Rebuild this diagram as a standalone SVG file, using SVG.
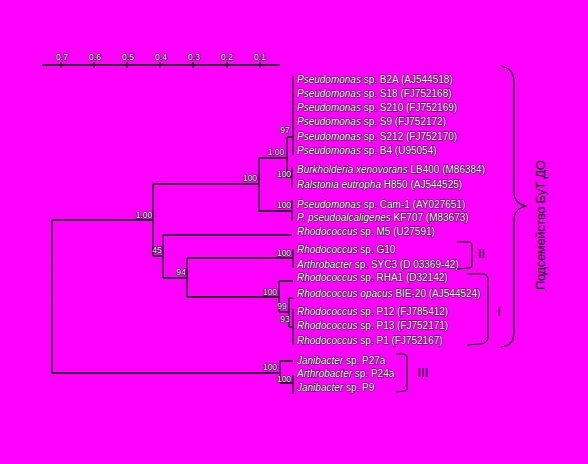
<svg xmlns="http://www.w3.org/2000/svg" width="588" height="464" viewBox="0 0 588 464">
<style>
.leaf{font-family:"Liberation Sans",Arial,sans-serif;font-size:10px;fill:#fff;stroke:#000;stroke-width:0.9;paint-order:stroke}
.lab{font-family:"Liberation Sans",Arial,sans-serif;font-size:8.5px;fill:#fff;stroke:#000;stroke-width:1;paint-order:stroke;text-anchor:middle}
.scl{font-family:"Liberation Sans",Arial,sans-serif;font-size:8.5px;fill:#fff;stroke:#000;stroke-width:1;paint-order:stroke;text-anchor:middle}
.rom{font-family:"Liberation Sans",Arial,sans-serif;font-size:13px;fill:#000;text-anchor:middle}
.ru{font-family:"Liberation Sans",Arial,sans-serif;font-size:13px;fill:#000;text-anchor:middle}
.ln{stroke:#000;stroke-width:1.3;fill:none}
.br{stroke:#000;stroke-width:1.2;fill:none}
i,.it{font-style:italic}
</style>
<rect width="588" height="464" fill="#ff00ff"/>
<g id="scale">
<path class="ln" d="M42,65H280M61,62V68M94,62V68M127,62V68M160,62V68M193,62V68M227,62V68M260,62V68"/>
<text class="scl" x="62" y="60">0.7</text>
<text class="scl" x="95" y="60">0.6</text>
<text class="scl" x="128" y="60">0.5</text>
<text class="scl" x="161" y="60">0.4</text>
<text class="scl" x="194" y="60">0.3</text>
<text class="scl" x="227" y="60">0.2</text>
<text class="scl" x="260" y="60">0.1</text>
</g>
<g id="connectors">
<path class="ln" d="M293,76V155M287,137H293M287,137V177H292M292,167V188M259,158H287M259,158V211H292M292,200V221M153,184H259M153,184V256M52,220H153M153,256H163M163,235V278M163,235H292M163,278H187M187,258V297M187,258H293M293,249V268M187,297H279M279,281V312M279,281H293M279,312H289M289,298V327M289,298H293M289,327H293M293,309V345M52,220V373H280M280,361V383M280,361H293M280,383H293M293,375V394"/>
</g>
<g id="leaves">
<text id="n1" class="leaf" x="297" y="83"><tspan class="it">Pseudomonas</tspan> sp. B2A (AJ544518)</text>
<text id="n2" class="leaf" x="297" y="97"><tspan class="it">Pseudomonas</tspan> sp. S18 (FJ752168)</text>
<text id="n3" class="leaf" x="297" y="111"><tspan class="it">Pseudomonas</tspan> sp. S210 (FJ752169)</text>
<text id="n4" class="leaf" x="297" y="125"><tspan class="it">Pseudomonas</tspan> sp. S9 (FJ752172)</text>
<text id="n5" class="leaf" x="297" y="139.5"><tspan class="it">Pseudomonas</tspan> sp. S212 (FJ752170)</text>
<text id="n6" class="leaf" x="297" y="153.5"><tspan class="it">Pseudomonas</tspan> sp. B4 (U95054)</text>
<text id="n7" class="leaf" x="297" y="172.5" textLength="188"><tspan class="it">Burkholderia xenovorans</tspan> LB400 (M86384)</text>
<text id="n8" class="leaf" x="297" y="187.5"><tspan class="it">Ralstonia eutropha</tspan> H850 (AJ544525)</text>
<text id="n9" class="leaf" x="297" y="207.5"><tspan class="it">Pseudomonas</tspan> sp. Cam-1 (AY027651)</text>
<text id="n10" class="leaf" x="297" y="220.5"><tspan class="it">P. pseudoalcaligenes</tspan> KF707 (M83673)</text>
<text id="n11" class="leaf" x="297" y="235"><tspan class="it">Rhodococcus</tspan> sp. M5 (U27591)</text>
<text id="n12" class="leaf" x="297" y="252.5"><tspan class="it">Rhodococcus</tspan> sp. G10</text>
<text id="n13" class="leaf" x="297" y="267.5"><tspan class="it">Arthrobacter</tspan> sp. SYC3 (D 03369-42)</text>
<text id="n14" class="leaf" x="297" y="280.5"><tspan class="it">Rhodococcus</tspan> sp. RHA1 (D32142)</text>
<text id="n15" class="leaf" x="297" y="296.5"><tspan class="it">Rhodococcus opacus</tspan> BIE-20 (AJ544524)</text>
<text id="n16" class="leaf" x="297" y="314.5"><tspan class="it">Rhodococcus</tspan> sp. P12 (FJ785412)</text>
<text id="n17" class="leaf" x="297" y="328.5"><tspan class="it">Rhodococcus</tspan> sp. P13 (FJ752171)</text>
<text id="n18" class="leaf" x="297" y="343.5"><tspan class="it">Rhodococcus</tspan> sp. P1 (FJ752167)</text>
<text id="n19" class="leaf" x="297" y="363.5"><tspan class="it">Janibacter</tspan> sp. P27a</text>
<text id="n20" class="leaf" x="297" y="376.5"><tspan class="it">Arthrobacter</tspan> sp. P24a</text>
<text id="n21" class="leaf" x="297" y="390.5"><tspan class="it">Janibacter</tspan> sp. P9</text>
</g>
<g id="support">
<text class="lab" x="285" y="133">97</text>
<text class="lab" x="276" y="155">1.00</text>
<text class="lab" x="284" y="177">100</text>
<text class="lab" x="250" y="181">100</text>
<text class="lab" x="284" y="208">100</text>
<text class="lab" x="144" y="218">1.00</text>
<text class="lab" x="157" y="253">45</text>
<text class="lab" x="284" y="256">100</text>
<text class="lab" x="181" y="275">94</text>
<text class="lab" x="270" y="295">100</text>
<text class="lab" x="282" y="309">99</text>
<text class="lab" x="285" y="322">93</text>
<text class="lab" x="270" y="370">100</text>
<text class="lab" x="284" y="382">100</text>
</g>
<g id="groups">
<path class="br" d="M501,66Q514,68 514,82V192Q514,204 527,206Q514,208 514,220V332Q514,346 501,347"/>
<path class="br" d="M457,242H469Q472,242 472,246V265Q472,268 469,268L457,269"/>
<path class="br" d="M467,274H484Q488,275 488,280V336Q488,344 480,344L467,345"/>
<path class="br" d="M396,354H404Q407,355 407,358V388Q407,391 404,391L396,392"/>
<text class="rom" x="481.5" y="258">II</text>
<text class="rom" x="499" y="316">I</text>
<text class="rom" x="423" y="377">III</text>
<text class="ru" transform="translate(545,225) rotate(-90)" textLength="130">Подсемейство БуТ ДО</text>
</g>
</svg>
